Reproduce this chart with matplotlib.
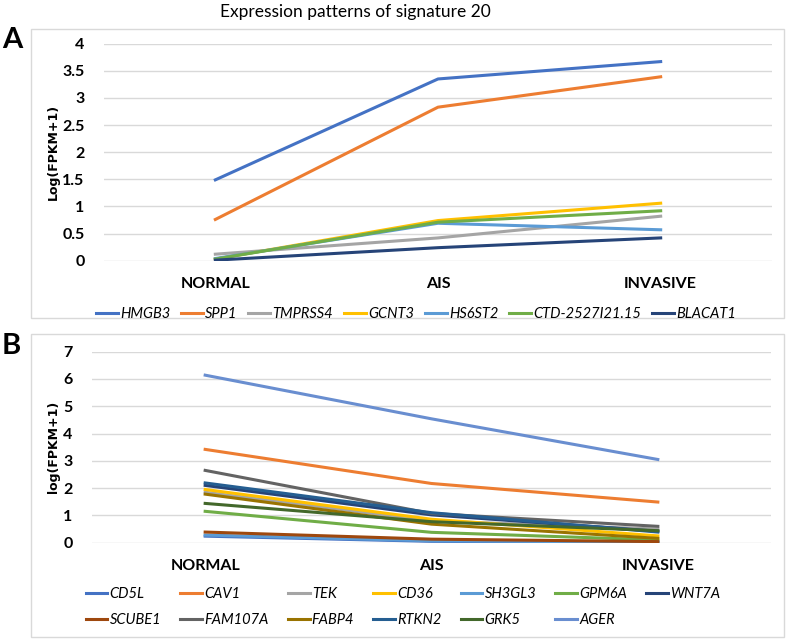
import matplotlib
matplotlib.use("Agg")
import matplotlib.pyplot as plt
from matplotlib.patches import Rectangle

plt.rcParams['font.family'] = ['Lato', 'DejaVu Sans']

stages = ["NORMAL", "AIS", "INVASIVE"]

# panel A genes (up in tumour)
genes_a = ["HMGB3", "SPP1", "TMPRSS4", "GCNT3", "HS6ST2", "CTD-2527I21.15", "BLACAT1"]
hmgb3 = [1.49, 3.35, 3.67]
spp1 = [0.76, 2.83, 3.39]
tmprss4 = [0.12, 0.42, 0.82]
gcnt3 = [0.03, 0.74, 1.06]
hs6st2 = [0.04, 0.69, 0.57]
ctd = [0.03, 0.71, 0.92]
blacat1 = [0.01, 0.24, 0.42]
values_a = [hmgb3, spp1, tmprss4, gcnt3, hs6st2, ctd, blacat1]
colors_a = ["#4472C4", "#ED7D31", "#A5A5A5", "#FFC000", "#5B9BD5", "#70AD47", "#264478"]

# panel B genes (down in tumour)
genes_b = ["CD5L", "CAV1", "TEK", "CD36", "SH3GL3", "GPM6A", "WNT7A",
           "SCUBE1", "FAM107A", "FABP4", "RTKN2", "GRK5", "AGER"]
cd5l = [0.24, 0.05, 0.01]
cav1 = [3.42, 2.17, 1.49]
tek = [1.85, 0.80, 0.50]
cd36 = [1.95, 0.86, 0.25]
sh3gl3 = [0.28, 0.07, 0.02]
gpm6a = [1.15, 0.38, 0.10]
wnt7a = [2.10, 1.02, 0.42]
scube1 = [0.39, 0.13, 0.04]
fam107a = [2.65, 1.07, 0.60]
fabp4 = [1.78, 0.68, 0.16]
rtkn2 = [2.19, 1.10, 0.39]
grk5 = [1.44, 0.77, 0.44]
ager = [6.14, 4.54, 3.05]
values_b = [cd5l, cav1, tek, cd36, sh3gl3, gpm6a, wnt7a,
            scube1, fam107a, fabp4, rtkn2, grk5, ager]
colors_b = ["#4472C4", "#ED7D31", "#A5A5A5", "#FFC000", "#5B9BD5", "#70AD47", "#264478",
            "#9E480E", "#636363", "#997300", "#255E91", "#43682B", "#698ED0"]

W, H = 786, 639
fig = plt.figure(figsize=(W / 100, H / 100), dpi=100)


def px_axes(x0, y0, x1, y1):
    # pixel box (top-left origin) -> figure axes
    return fig.add_axes((x0 / W, 1 - y1 / H, (x1 - x0) / W, (y1 - y0) / H))


def style_axes(ax, ymax, ystep, ylabel):
    ax.set_xlim(-0.5, 2.5)
    ax.set_ylim(0, ymax)
    ticks = [i * ystep for i in range(int(round(ymax / ystep)) + 1)]
    ax.set_yticks(ticks)
    ax.set_yticklabels(["%g" % t for t in ticks], fontsize=11.5, fontweight='bold')
    ax.set_xticks(range(len(stages)))
    ax.set_xticklabels(stages, fontsize=11.5, fontweight='bold')
    ax.tick_params(axis='y', length=0, pad=14)
    ax.tick_params(axis='x', length=0, pad=12)
    for s in ax.spines.values():
        s.set_visible(False)
    ax.grid(axis='y', color='#D9D9D9', linewidth=1)
    ax.set_axisbelow(True)
    ax.set_ylabel(ylabel, fontsize=9, fontweight='bold', family='DejaVu Sans', labelpad=2)


# frames around panels
fig.patches.append(Rectangle((31 / W, 1 - 318 / H), 753 / W, 289 / H, transform=fig.transFigure,
                             fill=False, edgecolor='#D9D9D9', linewidth=1))
fig.patches.append(Rectangle((31 / W, 1 - 637 / H), 753 / W, 303 / H, transform=fig.transFigure,
                             fill=False, edgecolor='#D9D9D9', linewidth=1))

legend_font = {'style': 'italic', 'size': 10.5}

# panel A
ax_a = px_axes(104, 43.7, 772, 260.7)
lines_a = []
for name, vals, col in zip(genes_a, values_a, colors_a):
    ln, = ax_a.plot(range(len(stages)), vals, color=col, linewidth=2.2, label=name)
    lines_a.append(ln)
style_axes(ax_a, 4, 0.5, "Log(FPKM+1)")
fig.legend(handles=lines_a, loc='center', bbox_to_anchor=(416 / W, 1 - 314 / H), ncol=7,
           frameon=False, prop=legend_font,
           handlelength=1.5, handletextpad=0.15, columnspacing=0.75)

# panel B
ax_b = px_axes(92, 351.7, 771, 542.7)
lines_b = []
for name, vals, col in zip(genes_b, values_b, colors_b):
    ln, = ax_b.plot(range(len(stages)), vals, color=col, linewidth=2.2, label=name)
    lines_b.append(ln)
style_axes(ax_b, 7, 1, "log(FPKM+1)")
# legend fills column by column, so interleave the two rows
order = []
for c in range(7):
    order.append(c)
    if c + 7 < len(lines_b):
        order.append(c + 7)
fig.legend(handles=[lines_b[i] for i in order], loc='center', bbox_to_anchor=(403 / W, 1 - 607 / H),
           ncol=7, frameon=False, prop=legend_font,
           handlelength=1.5, handletextpad=0.15, columnspacing=1.3, labelspacing=0.8)

fig.text(355 / W, 1 - 12 / H, "Expression patterns of signature 20", ha='center', va='center', fontsize=12.5)
fig.text(2 / W, 1 - 40 / H, "A", ha='left', va='center', fontsize=21, fontweight='bold')
fig.text(2 / W, 1 - 346 / H, "B", ha='left', va='center', fontsize=21, fontweight='bold')

fig.savefig("out.png", dpi=100)
